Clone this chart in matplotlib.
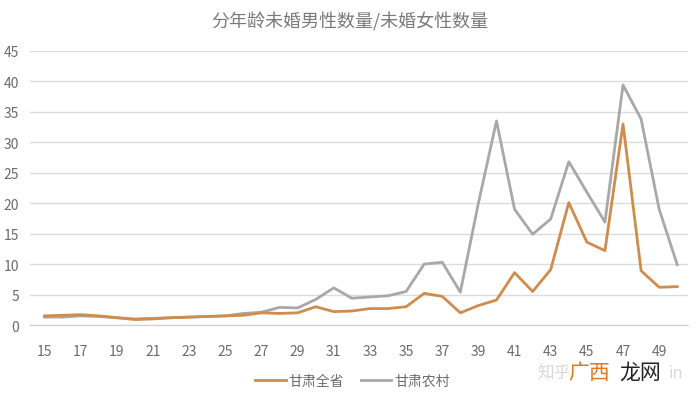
import matplotlib.pyplot as plt

plt.rcParams['font.family'] = ['Noto Sans CJK SC', 'DejaVu Sans']

ages = list(range(15, 51))
gansu_all = [1.5, 1.6, 1.7, 1.5, 1.2, 0.9, 1.0, 1.2, 1.3, 1.4, 1.5, 1.6, 2.0,
             1.9, 2.0, 3.0, 2.2, 2.3, 2.7, 2.7, 3.0, 5.2, 4.7, 2.0, 3.2, 4.1,
             8.6, 5.5, 9.1, 20.1, 13.6, 12.2, 33.0, 8.9, 6.2, 6.3]
gansu_rural = [1.3, 1.3, 1.5, 1.4, 1.2, 1.0, 1.1, 1.2, 1.3, 1.4, 1.5, 1.9, 2.1,
               2.9, 2.8, 4.2, 6.1, 4.4, 4.6, 4.8, 5.5, 10.0, 10.3, 5.4, 20.0, 33.5,
               19.0, 14.9, 17.4, 26.8, 21.8, 16.9, 39.4, 33.8, 19.0, 9.9]
xticks = list(range(15, 50, 2))
yticks = list(range(0, 46, 5))

fig = plt.figure(figsize=(7, 4.02), dpi=100)
ax = fig.add_axes([0.043, 0.189, 0.94, 0.682])

ax.plot(ages, gansu_all, color='#D08C4C', lw=2.0, label='甘肃全省', zorder=3)
ax.plot(ages, gansu_rural, color='#A8A8A8', lw=2.0, label='甘肃农村', zorder=2)

ax.set_xlim(14.2, 50.6)
ax.set_ylim(0, 45)
ax.set_xticks(xticks)
ax.set_yticks(yticks)
ax.tick_params(axis='both', length=0, colors='#6b6b6b', labelsize=10)
ax.tick_params(axis='y', pad=8)
ax.tick_params(axis='x', pad=14)
ax.grid(axis='y', color='#dcdcdc', lw=1)
ax.set_axisbelow(True)
for s in ['top', 'right', 'left']:
    ax.spines[s].set_visible(False)
ax.spines['bottom'].set_color('#d0d0d0')

fig.text(0.5, 0.945, '分年龄未婚男性数量/未婚女性数量', ha='center', va='center',
         fontsize=13, color='#7a7a7a')

ax.legend(loc='center', bbox_to_anchor=(0.49, -0.205), ncol=2, frameon=False,
          fontsize=10, labelcolor='#6b6b6b', handlelength=2.2, columnspacing=1.2,
          handletextpad=0.2)

# watermark
fig.text(0.768, 0.072, '知乎', fontsize=12, color='#d8d8d8', ha='left', va='center')
fig.text(0.812, 0.072, '广西', fontsize=15, color='#E0781E', ha='left', va='center')
fig.text(0.884, 0.072, '龙网', fontsize=15, color='#222222', ha='left', va='center')
fig.text(0.955, 0.072, 'in', fontsize=12, color='#d8d8d8', ha='left', va='center')

fig.savefig('out.png', dpi=100)
